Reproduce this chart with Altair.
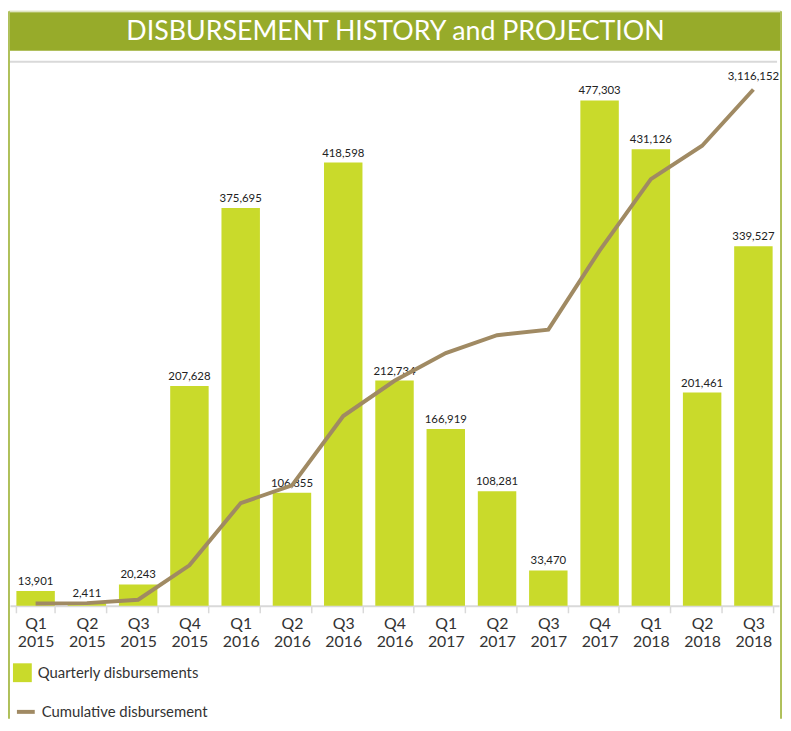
import altair as alt
import pandas as pd

# ---- data ----
quarters = ["Q1 2015", "Q2 2015", "Q3 2015", "Q4 2015",
            "Q1 2016", "Q2 2016", "Q3 2016", "Q4 2016",
            "Q1 2017", "Q2 2017", "Q3 2017", "Q4 2017",
            "Q1 2018", "Q2 2018", "Q3 2018"]
quarterly = [13901, 2411, 20243, 207628, 375695, 106855, 418598, 212734,
             166919, 108281, 33470, 477303, 431126, 201461, 339527]
cumulative = [13901, 16312, 36555, 244183, 619878, 726733, 1145331, 1358065,
              1524984, 1633265, 1666735, 2144038, 2575164, 2776625, 3116152]
bar_series = "Quarterly disbursements"
line_series = "Cumulative disbursement"
title_text = "DISBURSEMENT HISTORY and PROJECTION"

df = pd.DataFrame({
    "quarter": quarters,
    "quarterly": quarterly,
    "cumulative": cumulative,
    "bar_series": bar_series,
    "line_series": line_series,
})
deco = alt.Data(values=[{"t": title_text}])

# ---- style ----
W, H = 776, 549
PAD_TOP, PAD_BOTTOM = 51, 114
BAR_MAX = 513800
LINE_MAX = 3283500
FONT = "Lato"
BAR_C = "#C9DA2B"
LINE_C = "#A08A63"
BANNER_C = "#97AB2A"
FRAME_C = "#AFC05A"
GRAY = "#D9D9D9"
TXT = "#222222"

x_enc = alt.X(
    "quarter:N", sort=quarters, title=None,
    scale=alt.Scale(paddingInner=0.25, paddingOuter=0.125),
    axis=alt.Axis(labelExpr="split(datum.label, ' ')", labelAngle=0,
                  labelFont=FONT, labelFontSize=16, labelColor="#333333",
                  labelLineHeight=18, labelPadding=3, labelBaseline="top",
                  tickBand="extent", tickSize=7, tickColor=GRAY, tickWidth=1.5,
                  domainColor=GRAY, domainWidth=2, grid=False, title=None),
)
y_bar = alt.Y("quarterly:Q", scale=alt.Scale(domain=[0, BAR_MAX], nice=False), axis=None)
y_line = alt.Y("cumulative:Q", scale=alt.Scale(domain=[0, LINE_MAX], nice=False), axis=None)

bars = alt.Chart(df).mark_bar().encode(
    x=x_enc, y=y_bar,
    color=alt.Color("bar_series:N", scale=alt.Scale(range=[BAR_C]),
                    legend=alt.Legend(title=None, orient="none", legendX=3, legendY=607,
                                      symbolType="square", symbolSize=361,
                                      symbolStrokeWidth=0, labelOffset=6,
                                      labelFont=FONT, labelFontSize=15,
                                      labelLimit=400,
                                      labelColor="#333333", padding=0)),
)
bar_text = alt.Chart(df).mark_text(dy=-4, baseline="bottom", font=FONT,
                                   fontSize=11.5, color=TXT).encode(
    x=x_enc, y=y_bar, text=alt.Text("quarterly:Q", format=",d"))

line = alt.Chart(df).mark_line(strokeWidth=4).encode(
    x=x_enc, y=y_line,
    stroke=alt.Stroke("line_series:N", scale=alt.Scale(range=[LINE_C]),
                      legend=alt.Legend(title=None, orient="none", legendX=5, legendY=645,
                                        symbolType="stroke", symbolSize=324,
                                        symbolStrokeWidth=4, labelOffset=5,
                                        labelFont=FONT, labelFontSize=15,
                                        labelLimit=400,
                                        labelColor="#333333", padding=0)),
)
line_text = alt.Chart(df).transform_filter(
    alt.datum.quarter == quarters[-1]
).mark_text(dy=-8, baseline="bottom", font=FONT, fontSize=11.5, color=TXT).encode(
    x=x_enc, y=y_line, text=alt.Text("cumulative:Q", format=",d"))

banner = alt.Chart(deco).mark_rect(color=BANNER_C).encode(
    x=alt.value(0), x2=alt.value(W + 1), y=alt.value(-50), y2=alt.value(-11))
title = alt.Chart(deco).mark_text(font=FONT, fontSize=27, color="white",
                                  align="center", baseline="middle").encode(
    x=alt.value(389), y=alt.value(-30), text="t:N")
top_rule = alt.Chart(deco).mark_rule(color=GRAY, strokeWidth=2).encode(
    x=alt.value(0), x2=alt.value(W - 2), y=alt.value(0))
frame_top = alt.Chart(deco).mark_rule(color="#CFD8A0", strokeWidth=1).encode(
    x=alt.value(-1), x2=alt.value(W + 2), y=alt.value(-51))
frame_left = alt.Chart(deco).mark_rule(color=FRAME_C, strokeWidth=2).encode(
    x=alt.value(-1), y=alt.value(-51), y2=alt.value(H + PAD_BOTTOM))
frame_right = alt.Chart(deco).mark_rule(color=FRAME_C, strokeWidth=2).encode(
    x=alt.value(W + 2), y=alt.value(-51), y2=alt.value(H + PAD_BOTTOM))

chart = alt.layer(
    bars, bar_text, line, line_text,
    banner, title, top_rule, frame_top, frame_left, frame_right,
).resolve_scale(y="independent").properties(
    width=W, height=H,
    padding={"left": 2, "top": PAD_TOP, "right": 4, "bottom": PAD_BOTTOM},
    autosize=alt.AutoSizeParams(type="none"),
).configure_view(stroke=None)

chart.save("out.html", embed_options={"renderer": "svg", "actions": False})
